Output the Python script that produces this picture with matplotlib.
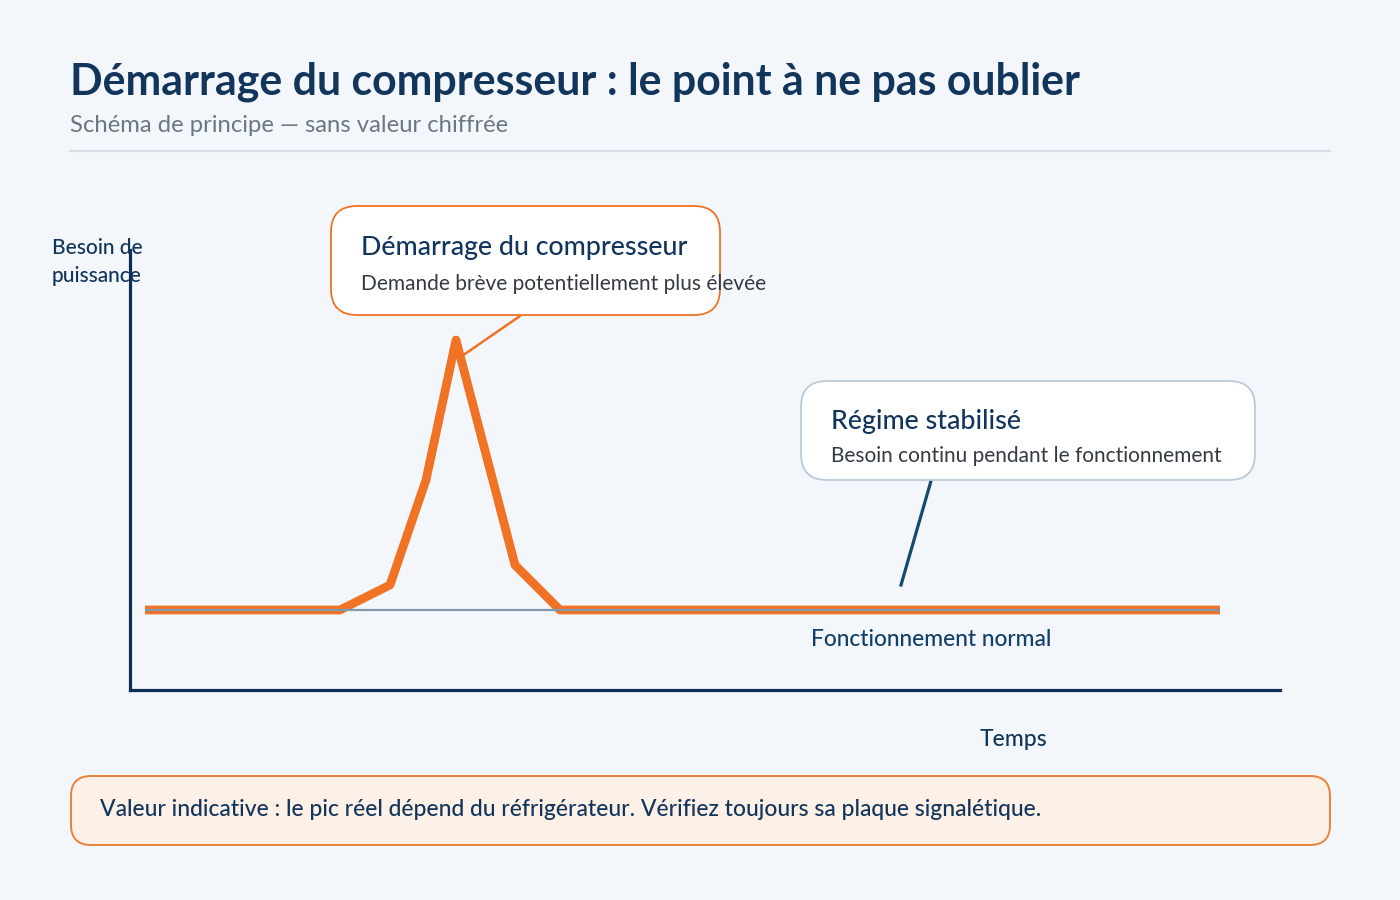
import matplotlib.pyplot as plt
from matplotlib.patches import FancyBboxPatch

plt.rcParams['font.family'] = ['Lato', 'DejaVu Sans']

# schematic curve (arbitrary units, no real values)
time = [1.5, 21.0, 26.0, 29.6, 32.6, 38.5, 43.0, 109.0]
demand = [8.0, 8.0, 10.5, 21.0, 35.0, 12.5, 8.0, 8.0]
steady_time = [1.5, 109.0]
steady_level = [8.0, 8.0]

title = "Démarrage du compresseur : le point à ne pas oublier"
subtitle = "Schéma de principe — sans valeur chiffrée"
peak_title = "Démarrage du compresseur"
peak_text = "Demande brève potentiellement plus élevée"
steady_title = "Régime stabilisé"
steady_text = "Besoin continu pendant le fonctionnement"
normal_label = "Fonctionnement normal"
x_label = "Temps"
y_label = "Besoin de\npuissance"
note = "Valeur indicative : le pic réel dépend du réfrigérateur. Vérifiez toujours sa plaque signalétique."

NAVY = '#0f2f52'
ORANGE = '#f07224'
BG = '#f3f7fb'

fig = plt.figure(figsize=(14, 9), dpi=100)
fig.patch.set_facecolor(BG)

# chart axes
ax = fig.add_axes([130 / 1400, 210 / 900, 1150 / 1400, 440 / 900])
ax.set_xlim(0, 115)
ax.set_ylim(0, 44)
ax.set_facecolor('none')
for s in ['top', 'right']:
    ax.spines[s].set_visible(False)
for s in ['left', 'bottom']:
    ax.spines[s].set_color(NAVY)
    ax.spines[s].set_linewidth(2.3)
ax.set_xticks([])
ax.set_yticks([])
ax.plot(time, demand, color=ORANGE, lw=6.3, solid_joinstyle='round', solid_capstyle='butt', zorder=3, clip_on=False)
ax.plot(steady_time, steady_level, color='#7f9ab0', lw=1.6, solid_capstyle='butt', zorder=4, clip_on=False)

# overlay in pixel coordinates for the annotations
ov = fig.add_axes([0, 0, 1, 1])
ov.set_xlim(0, 1400)
ov.set_ylim(900, 0)
ov.axis('off')
ov.patch.set_alpha(0)

ov.text(70, 94, title, fontsize=30.9, fontweight='bold', color='#12355b', va='baseline')
ov.text(70, 125, subtitle, fontsize=17.2, color='#6b7785', va='center')
ov.plot([70, 1330], [151, 151], color='#d6dee6', lw=1.5)

# peak callout
ov.plot([520, 462], [316, 356], color=ORANGE, lw=1.8, zorder=2)
ov.add_patch(FancyBboxPatch((331, 206), 389, 109, boxstyle='round,pad=0,rounding_size=26',
                            fc='white', ec=ORANGE, lw=1.3, zorder=3))
ov.text(361, 248, peak_title, fontsize=19.3, fontweight='medium', color='#12355b', va='center', zorder=4)
ov.text(361, 284, peak_text, fontsize=15, color='#333a42', va='center', zorder=4)

# steady callout
ov.plot([931, 901], [481, 585], color='#134a72', lw=2.3, zorder=2)
ov.add_patch(FancyBboxPatch((801, 381), 454, 99, boxstyle='round,pad=0,rounding_size=26',
                            fc='white', ec='#b9cad8', lw=1.3, zorder=3))
ov.text(831, 421, steady_title, fontsize=19.3, fontweight='medium', color='#12355b', va='center', zorder=4)
ov.text(831, 456, steady_text, fontsize=15, color='#333a42', va='center', zorder=4)

ov.text(811, 640, normal_label, fontsize=16.4, fontweight='medium', color='#12406a', va='center')
ov.text(1014, 740, x_label, fontsize=16.5, fontweight='medium', color='#12355b', va='center', ha='center')
ov.text(52, 262, y_label, fontsize=15, fontweight='medium', color='#12355b', va='center', linespacing=1.45)

# footer note
ov.add_patch(FancyBboxPatch((71, 776), 1259, 69, boxstyle='round,pad=0,rounding_size=20',
                            fc='#fdf0e6', ec='#e8823a', lw=1.4))
ov.text(100, 810, note, fontsize=16.5, fontweight='medium', color='#12355b', va='center')

fig.savefig('out.png', dpi=100, facecolor=BG)
